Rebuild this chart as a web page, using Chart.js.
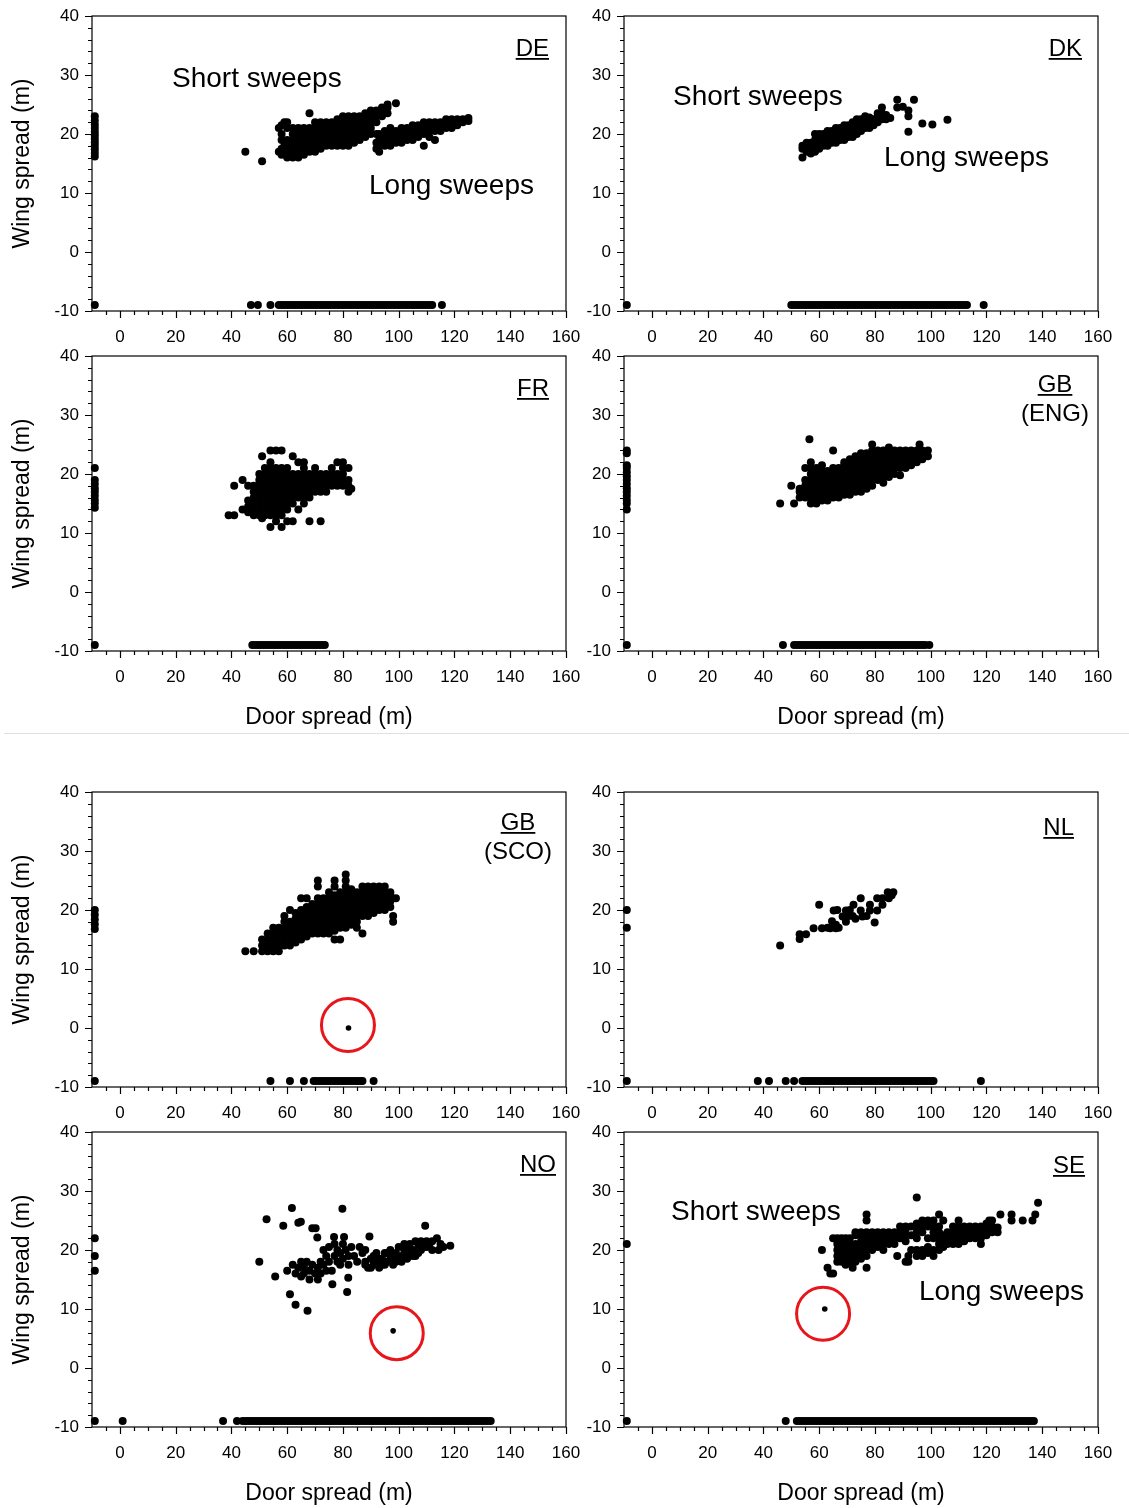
<!DOCTYPE html>
<html>
<head>
<meta charset="utf-8">
<title>Door spread vs wing spread by country</title>
<script src="https://cdn.jsdelivr.net/npm/chart.js@4.4.1/dist/chart.umd.min.js"></script>
<style>
  body { margin: 0; background: #fff; }
  #page { position: relative; width: 1129px; height: 1508px; overflow: hidden; }
  canvas { position: absolute; }
  #divider { position: absolute; left: 4px; top: 733px; width: 1125px; height: 1px; background: #e0e0e0; }
</style>
</head>
<body>
<div id="page">
  <div id="divider"></div>
</div>
<script>
// axis tick labels (m)
const doorTicks = [0, 20, 40, 60, 80, 100, 120, 140, 160];
const wingTicks = [-10, 0, 10, 20, 30, 40];
// missing values are plotted at -9 on either axis
const MISSING = -9;

// ---- DE ----
const deMissDoor = [23, 22.3, 21.6, 21, 20.4, 19.8, 19.2, 18.6, 18, 17.4, 16.8, 16.2, -9];
const deMissWing = [47, 49.5, 54, 57, 58, 59, 60, 61, 62, 63, 64, 65, 66, 67, 68, 69, 70, 71, 72, 73, 74, 75, 76, 77, 78, 79, 80,
  81, 82, 83, 84, 85, 86, 87, 88, 89, 90, 91, 92, 93, 94, 95, 96, 97, 98, 99, 100, 101, 102, 103, 104, 105, 106, 107, 108,
  109, 110, 111, 112, 115.5];
// [door, wing, wing, ...]
const deCols = [
  [45, 17], [51, 15.4], [57, 17, 21], [58, 16.5, 17.5, 19, 20, 21.5], [59, 17, 18, 22],
  [60, 16, 17, 18, 19, 21, 22], [62, 16, 17, 18, 19, 20, 21], [64, 16, 17, 18, 19, 20, 21],
  [66, 16.5, 17.5, 18.5, 19.5, 20.5, 21], [68, 17, 18, 19, 20, 21, 23.5], [70, 17, 18, 19, 20, 21, 22],
  [72, 17.5, 18.5, 19.5, 20.5, 21.5, 22], [74, 18, 19, 20, 21, 22], [76, 18, 19, 20, 21, 22],
  [78, 18, 19, 20, 21, 22, 22.5], [80, 18, 19, 20, 21, 22, 23], [82, 18, 19, 20, 21, 22, 23],
  [84, 18.5, 19.5, 20.5, 21.5, 22.5, 23], [86, 19, 20, 21, 22, 23], [88, 19.5, 20.5, 21.5, 22.5, 23.5],
  [90, 20, 21, 22, 23, 24], [92, 17.5, 18.5, 20, 22, 23, 24], [93, 17, 18, 19, 20], [94, 23, 24, 24.5],
  [95, 18, 19, 20, 20.5], [96, 23.5, 24.5, 25], [97, 18, 19, 20, 21], [99, 18.5, 19.5, 20.5, 25.2],
  [101, 18.5, 19.5, 20.5, 21], [103, 19, 20, 21], [105, 19, 20, 21, 21.5], [107, 19.5, 20.5, 21.5],
  [109, 18, 20, 21, 22], [111, 19.5, 20.5, 21.5, 22], [113, 19, 20.5, 21.5, 22], [115, 20.5, 21.5, 22],
  [117, 21, 22, 22.5], [119, 21, 22, 22.5], [121, 21.5, 22, 22.5], [123, 22, 22.5], [125, 22.2, 22.7]
];

// ---- DK ----
const dkMissDoor = [-9];
const dkMissWing = [50, 51, 52, 53, 54, 55, 56, 57, 58, 59, 60, 61, 62, 63, 64, 65, 66, 67, 68, 69, 70, 71, 72, 73, 74, 75,
  76, 77, 78, 79, 80, 81, 82, 83, 84, 85, 86, 87, 88, 89, 90, 91, 92, 93, 94, 95, 96, 97, 98, 99, 100, 101, 102, 103, 104,
  105, 106, 107, 108, 109, 110, 111, 112, 113, 119];
const dkCols = [
  [54, 16, 17.5, 18], [55.5, 17, 18, 18.5], [57, 16.7, 17.7, 18.5], [58.5, 17, 18, 19, 20],
  [60, 17.5, 18.5, 19.5, 20], [61.5, 18, 19, 20], [63, 18, 19, 20, 20.5], [64.5, 18.5, 19.5, 20.5],
  [66, 18.5, 19.5, 20.5, 21], [67.5, 19, 20, 21], [69, 19, 20, 21, 21.5], [70.5, 19.5, 20.5, 21.5],
  [72, 19.5, 20.5, 21.5, 22], [73.5, 20, 21, 22, 22.5], [75, 20.5, 21.5, 22.5], [76.5, 21, 22, 23],
  [78, 21, 22, 22.8], [79.5, 21.5, 22.5], [81, 22, 23, 23.5], [82.5, 22.5, 23.5, 24.5], [84, 22.5, 23.2],
  [85.5, 22.7], [88, 24.5, 25.8], [90, 24.6], [92, 20.4, 23, 24], [94, 25.8], [97, 21.8], [100.6, 21.6], [106, 22.4]
];

// ---- FR ----
const frMissDoor = [21, 19, 18.3, 17.6, 17, 16.3, 15.6, 15, 14.3, -9];
const frMissWing = [47.5, 48.5, 49.5, 50.5, 51.5, 52.5, 53.5, 54.5, 55.5, 56.5, 57.5, 58.5, 59.5, 60.5, 61.5, 62.5, 63.5,
  64.5, 65.5, 66.5, 67.5, 68.5, 69.5, 70.5, 71.5, 72.5, 73.5];
const frCols = [
  [39, 13], [41, 13, 18], [44, 14, 19], [46, 13.5, 14.5, 15.5, 18], [48, 13, 14, 15, 16, 17, 18],
  [50, 13, 14, 15, 16, 17, 18, 19, 20], [51, 12.5, 23], [52, 13, 14, 15, 16, 17, 18, 19, 20, 21],
  [54, 11, 13, 14, 15, 16, 17, 18, 19, 20, 21, 22, 24], [56, 12, 13, 14, 15, 16, 17, 18, 19, 20, 21, 24],
  [58, 11, 13, 14, 15, 16, 17, 18, 19, 20, 21, 24], [60, 12, 14, 15, 16, 17, 18, 19, 20, 21],
  [62, 12, 15, 16, 17, 18, 19, 20, 23], [64, 14, 16, 17, 18, 19, 20, 22],
  [66, 15, 16, 17, 18, 19, 20, 21, 22], [68, 12, 16, 17, 18, 19, 20], [70, 17, 18, 19, 20, 21],
  [72, 12, 17, 18, 19, 20], [74, 17, 18, 19, 20], [76, 18, 19, 20, 21], [78, 18, 19, 20, 22],
  [80, 18, 19, 20, 21, 22], [82, 17, 18, 19, 21], [83, 17.5]
];

// ---- GB (ENG) ----
const engMissDoor = [24, 23.5, 21.5, 21, 20.3, 19.6, 19, 18.3, 17.6, 17, 16.3, 15.6, 15, 14, -9];
const engMissWing = [47, 51, 52, 53, 54, 55, 56, 57, 58, 59, 60, 61, 62, 63, 64, 65, 66, 67, 68, 69, 70, 71, 72, 73, 74, 75,
  76, 77, 78, 79, 80, 81, 82, 83, 84, 85, 86, 87, 88, 89, 90, 91, 92, 93, 94, 95, 96, 97, 98, 99.5];
const engCols = [
  [46, 15], [50, 18], [51, 15], [53, 16, 17, 17.5], [55, 16, 17, 18, 19, 21], [56.5, 25.9],
  [57, 15, 16, 17, 18, 19, 20, 21, 22], [59, 15, 16, 17, 18, 19, 20, 21],
  [61, 15.5, 16.5, 17.5, 18.5, 19.5, 20.5, 21.5], [63, 15.5, 16.5, 17.5, 18.5, 19.5, 20.5],
  [65, 16, 17, 18, 19, 20, 21, 24], [67, 16, 17, 18, 19, 20, 21],
  [69, 16.5, 17.5, 18.5, 19.5, 20.5, 21.5, 22], [71, 16.5, 17.5, 18.5, 19.5, 20.5, 21.5, 22.5],
  [73, 17, 18, 19, 20, 21, 22, 23], [75, 17, 18, 19, 20, 21, 22, 23, 23.5],
  [77, 17.5, 18.5, 19.5, 20.5, 21.5, 22.5, 23.5], [79, 18, 19, 20, 21, 22, 23, 24, 25],
  [81, 19, 20, 21, 22, 23, 24], [83, 18.5, 19.5, 20.5, 21.5, 22.5, 23.5, 24],
  [85, 19.5, 20.5, 21.5, 22.5, 23.5, 24.5], [87, 20, 21, 22, 23, 24], [89, 19.8, 21, 22, 23, 24],
  [91, 21, 22, 23, 24], [93, 21.5, 22.5, 23.5, 24], [95, 22, 23, 24], [96, 25],
  [97, 22.5, 23.5, 24], [99, 23, 24]
];

// ---- GB (SCO) ----
const scoMissDoor = [20, 19.2, 18.4, 17.6, 16.8, -9];
const scoMissWing = [54, 61, 66, 69.5, 70.5, 71.5, 72.5, 73.5, 74.5, 75.5, 76.5, 77.5, 78.5, 79.5, 80.5, 81.5, 82.5, 83.5,
  84.5, 85.5, 86.5, 87, 91];
const scoCols = [
  [45, 13], [48, 13], [51, 13, 14, 15], [53, 13, 14, 15, 16], [55, 13, 14, 15, 16, 17],
  [57, 13, 14, 15, 16, 17], [59, 14, 15, 16, 17, 18, 19], [61, 14, 15, 16, 17, 18, 20],
  [63, 14.5, 15.5, 16.5, 17.5, 18.5, 19.5], [65, 15, 16, 17, 18, 19, 20, 22],
  [67, 15.5, 16.5, 17.5, 18.5, 19.5, 20.5, 22], [69, 16, 17, 18, 19, 20, 21],
  [71, 16, 17, 18, 19, 20, 21, 22, 24, 25], [73, 16, 17, 18, 19, 20, 21, 22],
  [75, 16, 17, 18, 19, 20, 21, 22, 23], [77, 15, 16.5, 17.5, 18.5, 19.5, 20.5, 21.5, 22.5, 24, 25],
  [79, 15, 17, 18, 19, 20, 21, 22, 23], [81, 17, 18, 19, 20, 21, 22, 23, 24, 25, 26],
  [83, 17.5, 18.5, 19.5, 20.5, 21.5, 22.5, 23.5], [85, 17, 18, 19, 20, 21, 22, 23],
  [87, 16, 19, 20, 21, 22, 23, 24], [89, 19, 20, 21, 22, 23, 24], [91, 19.5, 20.5, 21.5, 22.5, 23.5, 24],
  [93, 20, 21, 22, 23, 24], [95, 20, 21, 22, 23, 24], [97, 20.5, 21.5, 22.5, 23], [98, 18, 19], [99, 22]
];
const scoOutlier = [[82, 0]];

// ---- NL ----
const nlMissDoor = [20, 17, -9];
const nlMissWing = [38, 42, 48, 51, 54, 55, 56, 57, 58, 59, 60, 61, 62, 63, 64, 65, 66, 67, 68, 69, 70, 71, 72, 73, 74, 75,
  76, 77, 78, 79, 80, 81, 82, 83, 84, 85, 86, 87, 88, 89, 90, 91, 92, 93, 94, 95, 96, 97, 98, 99, 100, 101, 118];
const nlCols = [
  [46, 14], [53, 15.1, 15.9], [55.3, 15.9], [58, 16.9], [60, 20.9], [61, 16.9], [63, 17], [64, 16.9],
  [64.6, 18.1], [65.2, 19.9], [66, 16.9, 17.5], [66.5, 20], [67, 17], [68.4, 18.9], [69.6, 18, 19.9],
  [70.5, 19], [71, 20], [72, 19], [72.3, 20.9], [73, 18.5], [74.9, 19.9, 22], [75.5, 18.9], [77, 19],
  [78.2, 19.9, 20.9], [79.9, 17.9], [80.8, 19.9, 22], [82.7, 20.9, 22], [84.6, 23], [85, 22],
  [86, 22.5], [86.6, 23]
];

// ---- NO ----
const noMissDoor = [22, 19, 16.5, -9];
const noMissWing = [1, 37, 42, 44, 45, 46, 47, 48, 49, 50, 51, 52, 53, 54, 55, 56, 57, 58, 59, 60, 61, 62, 63, 64, 65, 66,
  67, 68, 69, 70, 71, 72, 73, 74, 75, 76, 77, 78, 79, 80, 81, 82, 83, 84, 85, 86, 87, 88, 89, 90, 91, 92, 93, 94, 95, 96,
  97, 98, 99, 100, 101, 102, 103, 104, 105, 106, 107, 108, 109, 110, 111, 112, 113, 114, 115, 116, 117, 118, 119, 120,
  121, 122, 123, 124, 125, 126, 127, 128, 129, 130, 131, 132, 133];
const noCols = [
  [50, 18], [52.6, 25.2], [55.7, 15.5], [58.6, 24.1], [60, 16.5], [61, 12.5], [61.7, 27.1], [62, 17.5],
  [63, 10.7, 16], [64, 17, 24.6], [64.9, 24.8], [65, 15.5, 18], [66, 16, 17.2], [67.3, 9.7], [67, 18],
  [68, 15, 16.5], [69, 17.5, 23.7], [70, 16], [70.2, 23.7], [70.8, 22.1], [71, 15, 17], [72, 16, 18],
  [73, 17.5, 20], [74, 16.5, 19], [75, 18, 20.5], [76, 16.5], [76.2, 14.2], [76.8, 22.2], [77, 19, 21],
  [78, 18, 20], [79, 17.5, 19.5], [79.8, 27], [80, 18.5, 21], [80.4, 22.2], [81, 20], [81.5, 12.9],
  [81.9, 15.3], [82, 17.5, 19], [83, 20.5], [84, 19], [85.1, 18], [86, 20.5], [87, 19.5], [88, 17.5, 18, 20],
  [89, 17], [89.5, 22.3], [90, 17, 18.5], [91, 17.5, 19], [92, 18, 19.5], [93, 17, 18.5], [94, 17.5, 18.5],
  [95, 17.5, 19.5], [96, 18, 19.5], [97, 19, 20], [98, 17.5, 18.5], [99, 18, 19.5], [100, 18.5, 20.5],
  [101, 18, 19], [102, 19, 20, 21], [103, 18.5, 20], [104, 19.5, 21], [105, 19, 20], [106, 19, 21.5],
  [107, 19.5, 20.5], [108, 20, 21.5], [109, 20.5], [109.5, 24.1], [110, 20.5, 21.5], [111, 21],
  [112, 20, 21.5], [113.7, 22], [114.3, 20], [115, 21], [116, 20.5], [118.5, 20.7]
];
const noOutlier = [[98, 6.3]];

// ---- SE ----
const seMissDoor = [21, -9];
const seMissWing = [48, 52, 53, 54, 55, 56, 57, 58, 59, 60, 61, 62, 63, 64, 65, 66, 67, 68, 69, 70, 71, 72, 73, 74, 75, 76,
  77, 78, 79, 80, 81, 82, 83, 84, 85, 86, 87, 88, 89, 90, 91, 92, 93, 94, 95, 96, 97, 98, 99, 100, 101, 102, 103, 104, 105,
  106, 107, 108, 109, 110, 111, 112, 113, 114, 115, 116, 117, 118, 119, 120, 121, 122, 123, 124, 125, 126, 127, 128, 129,
  130, 131, 132, 133, 134, 135, 136, 137];
const seCols = [
  [61, 20], [63, 17], [64, 16], [65, 16, 22], [66.5, 18, 19, 20, 21, 22], [68, 18, 19, 20, 21, 22],
  [69.5, 17.5, 18.5, 19.5, 20.5, 21.5, 22], [71, 18, 19, 20, 21, 22], [72, 17],
  [73, 18, 19, 20, 21, 22.5, 23], [75, 18.5, 19.5, 20.5, 21.5, 22.5, 23], [77, 17, 19, 20, 21, 22, 23, 25, 26],
  [79, 20, 21, 22, 23], [81, 20.5, 21.5, 22.5, 23], [83, 20, 21, 22, 23], [85, 21, 22, 23], [87, 21, 22, 23],
  [88, 19], [89, 22, 23, 24], [91, 18, 21.5, 22.5, 23.5, 24], [92, 18, 19], [93, 20, 22.5, 24],
  [95, 19, 20, 22, 23, 24, 24.5, 28.9], [97, 19, 20, 23, 24, 25], [99, 19.5, 20.5, 22, 24, 25],
  [101, 19, 20, 22, 23, 24, 25], [103, 20, 21, 22, 23, 24, 26], [104.5, 20.5, 21.5, 22.5, 25],
  [106, 21, 22, 23], [108, 21, 22, 23, 24], [110, 21, 22, 23, 24, 25], [112, 21.5, 22.5, 23.5, 24],
  [114, 22, 23, 24], [116, 22, 23, 24], [118, 21, 22, 23, 24], [120, 22.5, 23.5, 24.5], [121, 25],
  [122, 23, 24, 25], [124, 23, 23.8], [125, 26], [129, 25, 26], [133, 25], [136.5, 25], [137.5, 26], [138.5, 28]
];
const seOutlier = [[62, 10]];

// red rings drawn round the outliers [door, wing]
const ringCentres = { SCO: [81.8, 0.5], NO: [99.3, 5.9], SE: [61.4, 9.2] };

function colsToPoints(cols, missDoor, missWing) {
  const pts = [];
  cols.forEach(c => {
    for (let i = 1; i < c.length; i++) pts.push({ x: c[0], y: c[i] });
  });
  missDoor.forEach(w => pts.push({ x: MISSING, y: w }));
  missWing.forEach(d => pts.push({ x: d, y: MISSING }));
  return pts;
}

const ROW_TOP = [16, 356, 792, 1132];
const COL_LEFT = [0, 532];
const FONT = '"Liberation Sans", Arial, sans-serif';

const panels = [
  { row: 0, col: 0, pts: colsToPoints(deCols, deMissDoor, deMissWing),
    labels: [{ text: 'DE', dx: 457, dy: 40, align: 'right', underline: true }],
    notes: [{ text: 'Short sweeps', dx: 80, dy: 71 }, { text: 'Long sweeps', dx: 277, dy: 178 }] },
  { row: 0, col: 1, pts: colsToPoints(dkCols, dkMissDoor, dkMissWing),
    labels: [{ text: 'DK', dx: 458, dy: 40, align: 'right', underline: true }],
    notes: [{ text: 'Short sweeps', dx: 49, dy: 89 }, { text: 'Long sweeps', dx: 260, dy: 150 }] },
  { row: 1, col: 0, pts: colsToPoints(frCols, frMissDoor, frMissWing),
    labels: [{ text: 'FR', dx: 457, dy: 40, align: 'right', underline: true }], notes: [] },
  { row: 1, col: 1, pts: colsToPoints(engCols, engMissDoor, engMissWing),
    labels: [{ text: 'GB', dx: 431, dy: 36, align: 'center', underline: true },
             { text: '(ENG)', dx: 431, dy: 65, align: 'center' }], notes: [] },
  { row: 2, col: 0, pts: colsToPoints(scoCols, scoMissDoor, scoMissWing), outlier: scoOutlier, ring: ringCentres.SCO,
    labels: [{ text: 'GB', dx: 426, dy: 38, align: 'center', underline: true },
             { text: '(SCO)', dx: 426, dy: 67, align: 'center' }], notes: [] },
  { row: 2, col: 1, pts: colsToPoints(nlCols, nlMissDoor, nlMissWing),
    labels: [{ text: 'NL', dx: 450, dy: 43, align: 'right', underline: true }], notes: [] },
  { row: 3, col: 0, pts: colsToPoints(noCols, noMissDoor, noMissWing), outlier: noOutlier, ring: ringCentres.NO,
    labels: [{ text: 'NO', dx: 464, dy: 40, align: 'right', underline: true }], notes: [] },
  { row: 3, col: 1, pts: colsToPoints(seCols, seMissDoor, seMissWing), outlier: seOutlier, ring: ringCentres.SE,
    labels: [{ text: 'SE', dx: 461, dy: 41, align: 'right', underline: true }],
    notes: [{ text: 'Short sweeps', dx: 47, dy: 88 }, { text: 'Long sweeps', dx: 295, dy: 168 }] }
];

// box round the plot plus outward tick marks
const frameTicks = {
  id: 'frameTicks',
  afterDraw(chart) {
    const { ctx, chartArea: a } = chart;
    const xs = chart.scales.x, ys = chart.scales.y;
    ctx.save();
    ctx.strokeStyle = '#000';
    ctx.lineWidth = 1.2;
    ctx.strokeRect(a.left, a.top, a.right - a.left, a.bottom - a.top);
    ctx.beginPath();
    for (let v = -5; v <= 160; v += 5) {
      const px = Math.round(xs.getPixelForValue(v)) + 0.5;
      ctx.moveTo(px, a.bottom);
      ctx.lineTo(px, a.bottom + (v % 20 === 0 ? 7 : 4));
    }
    for (let v = -10; v <= 40; v += 2) {
      const py = Math.round(ys.getPixelForValue(v)) + 0.5;
      ctx.moveTo(a.left, py);
      ctx.lineTo(a.left - (v % 10 === 0 ? 7 : 4), py);
    }
    ctx.stroke();
    ctx.restore();
  }
};

// country labels and sweep notes
const panelText = {
  id: 'panelText',
  afterDraw(chart, args, opts) {
    const { ctx, chartArea: a } = chart;
    ctx.save();
    ctx.fillStyle = '#000';
    ctx.textBaseline = 'alphabetic';
    const draw = (t, size) => {
      ctx.font = size + 'px ' + FONT;
      ctx.textAlign = t.align || 'left';
      const px = a.left + t.dx, py = a.top + t.dy;
      ctx.fillText(t.text, px, py);
      if (t.underline) {
        const w = ctx.measureText(t.text).width;
        const x0 = t.align === 'center' ? px - w / 2 : t.align === 'right' ? px - w : px;
        ctx.fillRect(x0, py + 2, w, 1.8);
      }
    };
    (opts.labels || []).forEach(t => draw(t, 24));
    (opts.notes || []).forEach(t => draw(t, 28));
    ctx.restore();
  }
};

const page = document.getElementById('page');

panels.forEach(p => {
  const withDoorTitle = p.row === 1 || p.row === 3;
  const withWingTitle = p.col === 0;
  const xAxisH = withDoorTitle ? 80 : 40;
  const canvas = document.createElement('canvas');
  canvas.width = 580;
  canvas.height = 16 + 295 + xAxisH;
  canvas.style.left = COL_LEFT[p.col] + 'px';
  canvas.style.top = (ROW_TOP[p.row] - 16) + 'px';
  page.appendChild(canvas);

  const datasets = [{
    data: p.pts,
    pointRadius: 4,
    pointBorderWidth: 0,
    pointBackgroundColor: '#000',
    clip: false
  }];
  if (p.outlier) {
    datasets.push({
      data: p.outlier.map(o => ({ x: o[0], y: o[1] })),
      pointRadius: 2.8,
      pointBorderWidth: 0,
      pointBackgroundColor: '#000'
    });
  }
  if (p.ring) {
    datasets.push({
      data: [{ x: p.ring[0], y: p.ring[1] }],
      pointRadius: 26.5,
      pointBorderWidth: 3,
      pointBorderColor: '#e8151b',
      pointBackgroundColor: 'rgba(0,0,0,0)',
      clip: false
    });
  }

  new Chart(canvas, {
    type: 'scatter',
    data: { datasets: datasets },
    options: {
      responsive: false,
      animation: false,
      events: [],
      layout: { autoPadding: false, padding: { top: 16, right: 14, left: 0, bottom: 0 } },
      plugins: {
        legend: { display: false },
        tooltip: { enabled: false },
        panelText: { labels: p.labels, notes: p.notes }
      },
      scales: {
        x: {
          type: 'linear',
          min: -10,
          max: 160,
          grid: { display: true, drawOnChartArea: false, drawTicks: false },
          border: { display: false },
          afterBuildTicks: s => { s.ticks = doorTicks.map(v => ({ value: v })); },
          afterFit: s => { s.height = xAxisH; s.paddingLeft = 0; s.paddingRight = 0; },
          ticks: { padding: 16, color: '#000', font: { family: FONT, size: 17 }, maxRotation: 0 },
          title: {
            display: withDoorTitle,
            text: 'Door spread (m)',
            color: '#000',
            font: { family: FONT, size: 23 },
            padding: { top: 0, bottom: 0 }
          }
        },
        y: {
          type: 'linear',
          min: -10,
          max: 40,
          grid: { display: true, drawOnChartArea: false, drawTicks: false },
          border: { display: false },
          afterBuildTicks: s => { s.ticks = wingTicks.map(v => ({ value: v })); },
          afterFit: s => { s.width = 92; s.paddingTop = 0; s.paddingBottom = 0; },
          ticks: { padding: 13, color: '#000', font: { family: FONT, size: 17 } },
          title: {
            display: withWingTitle,
            text: 'Wing spread (m)',
            color: '#000',
            font: { family: FONT, size: 23 },
            padding: { top: 9, bottom: 0 }
          }
        }
      }
    },
    plugins: [frameTicks, panelText]
  });
});
</script>
</body>
</html>
